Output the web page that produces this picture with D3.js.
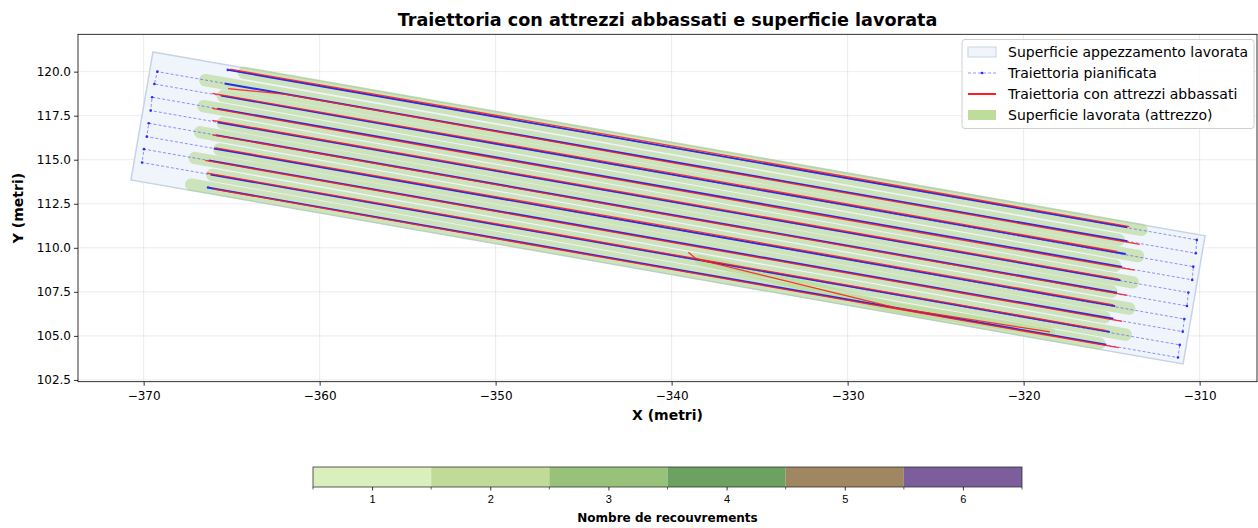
<!DOCTYPE html>
<html><head><meta charset="utf-8">
<script src="https://cdn.jsdelivr.net/npm/d3@7"></script>
<style>body{margin:0;background:#fff} svg{display:block;font-family:"DejaVu Sans",sans-serif}</style>
</head><body><svg id="c" width="1258" height="528"></svg>
<script>
// ---------- DATA (metres) ----------
const fieldX = [-369.47, -309.69, -310.94, -370.72];
const fieldY = [121.12, 110.68, 103.41, 113.85];

const plannedX = [-365.22, -310.16, -310.22, -369.22, -369.39, -310.36, -310.42, -369.52, -369.60, -310.64,
                  -310.72, -369.71, -369.82, -310.87, -310.96, -369.98, -370.09, -311.13, -311.23, -366.34];
const plannedY = [120.10, 110.45, 109.69, 120.00, 119.30, 108.93, 108.18, 118.55, 117.79, 107.46,
                  106.70, 117.07, 116.31, 105.96, 105.24, 115.60, 114.84, 104.49, 103.77, 113.42];

// densely sampled planned section of each pass (start / end)
const denseX = [[-365.2,-314.1],[-314.1,-365.4],[-365.6,-314.2],[-314.4,-365.8],[-365.8,-314.5],
                [-314.7,-365.9],[-366.0,-314.8],[-314.9,-366.3],[-366.2,-315.1],[-315.3,-366.3]];
const denseY = [[120.10,111.17],[110.37,119.33],[118.64,109.65],[108.92,117.90],[117.13,108.16],
                [107.45,116.40],[115.64,106.69],[105.97,114.96],[114.16,105.23],[104.50,113.41]];

// trajectory with implements lowered
const redX = [[-365.1,-340,-314.0],[-313.4,-340,-362.0,-365.2],[-366.1,-340,-314.7],[-313.7,-340,-366.1],
              [-366.1,-340,-314.6],[-314.1,-340,-366.1],[-365.9,-340,-314.9],[-314.4,-340,-366.5],
              [-366.4,-340,-315.3],[-314.6,-340,-366.0],[-339.05,-338.7,-338.39,-327.25,-318.5]];
const redY = [[120.14,115.79,111.20],[110.19,114.84,118.72,119.04],[118.77,114.24,109.79],[108.73,113.33,117.91],
              [117.23,112.68,108.22],[107.30,111.83,116.41],[115.67,111.17,106.76],[105.83,110.31,114.96],
              [114.24,109.63,105.30],[104.33,108.77,113.33],[109.75,109.45,109.31,106.59,105.23]];

// worked surface (implement swath centre lines)
const swathX = [[-364.3,-313.3],[-314.6,-366.5],[-365.5,-313.5],[-314.8,-366.6],[-365.5,-313.8],
                [-315.0,-366.8],[-365.7,-314.0],[-315.4,-367.1],[-366.1,-314.2],[-315.7,-367.3],
                [-338.39,-327.25,-318.5]];
const swathY = [[119.94,111.02],[110.45,119.52],[118.62,109.53],[108.98,118.04],[117.07,108.04],
                [107.51,116.56],[115.59,106.55],[106.06,115.10],[114.14,105.07],[104.57,113.59],
                [109.31,106.59,105.23]];
const swathWidth = 0.7;

const overlapLevels = [1, 2, 3, 4, 5, 6];
const overlapColors = ["#d9efbc", "#c0db98", "#98c279", "#6ca161", "#a08661", "#7b5e9b"];

const xTicks = [-370, -360, -350, -340, -330, -320, -310];
const yTicks = [102.5, 105.0, 107.5, 110.0, 112.5, 115.0, 117.5, 120.0];

const legendLabels = ["Superficie appezzamento lavorata", "Traiettoria pianificata",
                      "Traiettoria con attrezzi abbassati", "Superficie lavorata (attrezzo)"];

// ---------- CHART ----------
const m = {l: 78, r: 1257, t: 34.3, b: 381.7};
const x = d3.scaleLinear().domain([-373.73, -306.74]).range([m.l, m.r]);
const y = d3.scaleLinear().domain([102.4, 122.12]).range([m.b, m.t]);
const svg = d3.select("#c");

svg.append("defs").append("clipPath").attr("id", "clip")
  .append("rect").attr("x", m.l).attr("y", m.t).attr("width", m.r - m.l).attr("height", m.b - m.t);

// grid
const grid = svg.append("g");
grid.selectAll(".gx").data(xTicks).join("line")
  .attr("x1", d => x(d)).attr("x2", d => x(d)).attr("y1", m.t).attr("y2", m.b)
  .attr("stroke", "#b0b0b0").attr("stroke-opacity", 0.3).attr("stroke-width", 0.8);
grid.selectAll(".gy").data(yTicks).join("line")
  .attr("y1", d => y(d)).attr("y2", d => y(d)).attr("x1", m.l).attr("x2", m.r)
  .attr("stroke", "#b0b0b0").attr("stroke-opacity", 0.3).attr("stroke-width", 0.8);

const plot = svg.append("g").attr("clip-path", "url(#clip)");
const line = d3.line().x(d => x(d[0])).y(d => y(d[1]));
const zip = (a, b) => a.map((v, i) => [v, b[i]]);

// field polygon
plot.append("path").datum(zip(fieldX, fieldY))
  .attr("d", d => line(d) + "Z")
  .attr("fill", "#f0f5fc").attr("stroke", "#c6d3e6").attr("stroke-width", 1.5);

// swaths
const swPx = Math.abs(x(swathWidth) - x(0));
swathX.forEach((xs, i) => {
  plot.append("path").datum(zip(xs, swathY[i]))
    .attr("d", line).attr("fill", "none")
    .attr("stroke", "#a8d27a").attr("stroke-opacity", i === 10 ? 0.35 : 0.5)
    .attr("stroke-width", i === 10 ? swPx * 0.8 : swPx)
    .attr("stroke-linecap", "round").attr("stroke-linejoin", "round");
});

// planned path
plot.append("path").datum(zip(plannedX, plannedY))
  .attr("d", line).attr("fill", "none")
  .attr("stroke", "#4a4aff").attr("stroke-opacity", 0.75)
  .attr("stroke-width", 0.8).attr("stroke-dasharray", "3,2");
denseX.forEach((xs, i) => {
  plot.append("path").datum(zip(xs, denseY[i]))
    .attr("d", line).attr("fill", "none")
    .attr("stroke", "#2b2be8").attr("stroke-width", 1.9);
});
plot.selectAll(".pt").data(zip(plannedX, plannedY)).join("circle")
  .attr("cx", d => x(d[0])).attr("cy", d => y(d[1])).attr("r", 1.3).attr("fill", "#2b2bff");

// red trajectory
redX.forEach((xs, i) => {
  plot.append("path").datum(zip(xs, redY[i]))
    .attr("d", line).attr("fill", "none")
    .attr("stroke", "#ff1f1f").attr("stroke-opacity", 0.9).attr("stroke-width", 1.3)
    .attr("stroke-linejoin", "round");
});

// axes
const xa = svg.append("g").attr("transform", `translate(0,${m.b})`)
  .call(d3.axisBottom(x).tickValues(xTicks).tickSize(4).tickSizeOuter(0).tickFormat(d3.format("d")));
const ya = svg.append("g").attr("transform", `translate(${m.l},0)`)
  .call(d3.axisLeft(y).tickValues(yTicks).tickSize(4).tickSizeOuter(0).tickFormat(d3.format(".1f")));
[xa, ya].forEach(a => {
  a.select(".domain").remove();
  a.selectAll("text").attr("font-size", 12).attr("fill", "#000").attr("font-family", "DejaVu Sans");
  a.selectAll("line").attr("stroke", "#000").attr("stroke-width", 0.8);
});
xa.selectAll("text").attr("dy", "0.95em");
// frame
svg.append("rect").attr("x", m.l).attr("y", m.t).attr("width", m.r - m.l).attr("height", m.b - m.t)
  .attr("fill", "none").attr("stroke", "#000").attr("stroke-width", 0.8);

// titles
svg.append("text").attr("x", (m.l + m.r) / 2).attr("y", 26).attr("text-anchor", "middle")
  .attr("font-size", 17.6).attr("font-weight", "bold").text("Traiettoria con attrezzi abbassati e superficie lavorata");
svg.append("text").attr("x", (m.l + m.r) / 2).attr("y", 420).attr("text-anchor", "middle")
  .attr("font-size", 14).attr("font-weight", "bold").text("X (metri)");
svg.append("text").attr("transform", `translate(23,${(m.t + m.b) / 2}) rotate(-90)`).attr("text-anchor", "middle")
  .attr("font-size", 14).attr("font-weight", "bold").text("Y (metri)");

// legend
const lg = svg.append("g");
lg.append("rect").attr("x", 962).attr("y", 39.5).attr("width", 292).attr("height", 89).attr("rx", 3)
  .attr("fill", "#fff").attr("fill-opacity", 0.85).attr("stroke", "#d0d0d0");
const ly = [52, 73, 94, 115];
lg.append("rect").attr("x", 968).attr("y", ly[0] - 5).attr("width", 28).attr("height", 10)
  .attr("fill", "#f0f5fc").attr("stroke", "#c6d3e6");
lg.append("line").attr("x1", 968).attr("x2", 996).attr("y1", ly[1]).attr("y2", ly[1])
  .attr("stroke", "#4a4aff").attr("stroke-opacity", 0.75).attr("stroke-width", 0.8).attr("stroke-dasharray", "3,2");
lg.append("circle").attr("cx", 982).attr("cy", ly[1]).attr("r", 1.3).attr("fill", "#2b2bff");
lg.append("line").attr("x1", 968).attr("x2", 996).attr("y1", ly[2]).attr("y2", ly[2])
  .attr("stroke", "#ff1f1f").attr("stroke-width", 2);
lg.append("rect").attr("x", 968).attr("y", ly[3] - 5).attr("width", 28).attr("height", 10)
  .attr("fill", "#a8d27a").attr("fill-opacity", 0.75);
lg.selectAll(".lt").data(legendLabels).join("text")
  .attr("x", 1008).attr("y", (d, i) => ly[i]).attr("dominant-baseline", "central")
  .attr("font-size", 14).text(d => d);

// colorbar
const cb = {l: 313, r: 1022, t: 467, b: 487};
const cx = d3.scaleLinear().domain([0.5, 6.5]).range([cb.l, cb.r]);
svg.selectAll(".cbr").data(overlapLevels).join("rect")
  .attr("x", d => cx(d - 0.5)).attr("y", cb.t).attr("width", d => cx(d + 0.5) - cx(d - 0.5))
  .attr("height", cb.b - cb.t).attr("fill", (d, i) => overlapColors[i]);
svg.append("rect").attr("x", cb.l).attr("y", cb.t).attr("width", cb.r - cb.l).attr("height", cb.b - cb.t)
  .attr("fill", "none").attr("stroke", "#333").attr("stroke-width", 0.8);
const cba = svg.append("g").attr("transform", `translate(0,${cb.b})`)
  .call(d3.axisBottom(cx).tickValues(overlapLevels).tickSize(3.5).tickSizeOuter(0).tickFormat(d3.format("d")));
cba.select(".domain").remove();
cba.selectAll("text").attr("font-size", 11).attr("fill", "#000").attr("dy", "0.9em");
cba.selectAll("line").attr("stroke", "#000").attr("stroke-width", 0.8);
svg.selectAll(".cbm").data([0.5, 1.5, 2.5, 3.5, 4.5, 5.5, 6.5]).join("line")
  .attr("x1", d => cx(d)).attr("x2", d => cx(d)).attr("y1", cb.b).attr("y2", cb.b + 2.5)
  .attr("stroke", "#000").attr("stroke-width", 0.6);
svg.append("text").attr("x", (cb.l + cb.r) / 2).attr("y", 522).attr("text-anchor", "middle")
  .attr("font-size", 12).attr("font-weight", "bold").text("Nombre de recouvrements");
</script></body></html>
